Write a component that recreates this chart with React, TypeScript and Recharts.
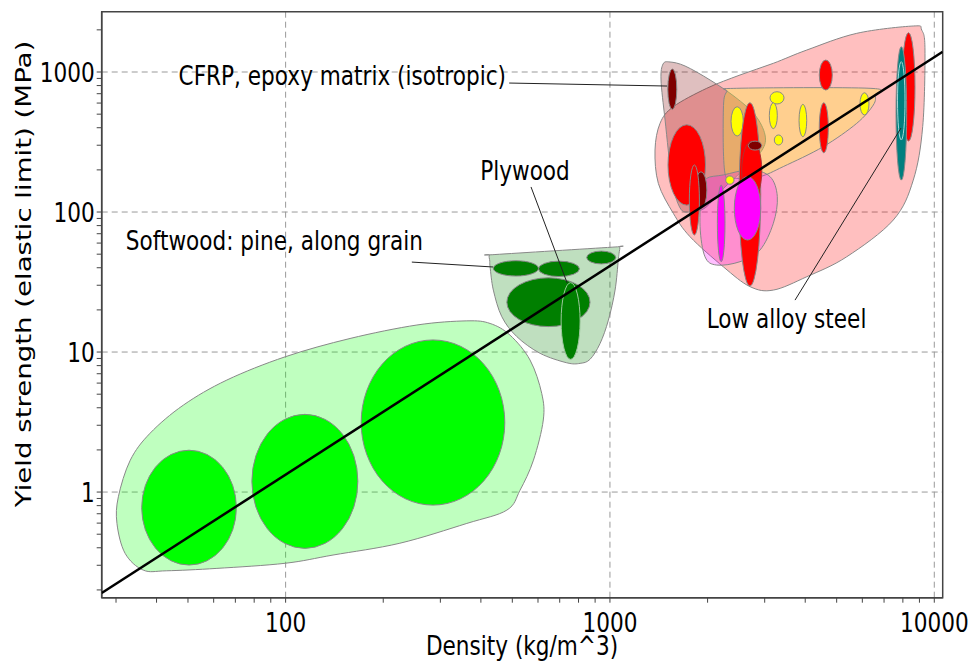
import React from 'react'
import { ScatterChart, Scatter, XAxis, YAxis, CartesianGrid, ReferenceArea } from 'recharts'

// Ashby chart: density vs yield strength, log-log

type Pt = { x: number; y: number }
type Cell = { family: string; x0: number; x1: number; y0: number; y1: number; edge?: string }

if (typeof document !== 'undefined') document.body.style.margin = '0'

const X_DOMAIN = [27.1, 10615]
const Y_DOMAIN = [0.176, 2696]

const X_TICKS = [
  30, 40, 50, 60, 70, 80, 90, 100, 200, 300, 400, 500, 600, 700, 800, 900, 1000,
  2000, 3000, 4000, 5000, 6000, 7000, 8000, 9000, 10000,
]
const Y_TICKS = [
  0.2, 0.3, 0.4, 0.5, 0.6, 0.7, 0.8, 0.9, 1, 2, 3, 4, 5, 6, 7, 8, 9, 10, 20, 30, 40, 50, 60,
  70, 80, 90, 100, 200, 300, 400, 500, 600, 700, 800, 900, 1000, 2000,
]
const X_LABELS = [100, 1000, 10000]
const Y_LABELS = [1, 10, 100, 1000]

// envelopes (vertices)
const foamHull: Pt[] = [
  { x: 36.4, y: 0.277 }, { x: 32.0, y: 0.365 }, { x: 30.2, y: 0.597 }, { x: 30.5, y: 0.925 },
  { x: 33.2, y: 1.69 }, { x: 38.2, y: 2.63 }, { x: 48.4, y: 4.18 }, { x: 65.9, y: 6.31 },
  { x: 99.7, y: 9.25 }, { x: 158, y: 12.5 }, { x: 254, y: 15.6 }, { x: 362, y: 16.7 },
  { x: 427, y: 16.0 }, { x: 492, y: 13.2 }, { x: 567, y: 8.77 }, { x: 616, y: 5.07 },
  { x: 623, y: 3.27 }, { x: 581, y: 1.69 }, { x: 528, y: 1.03 }, { x: 481, y: 0.743 },
  { x: 362, y: 0.597 }, { x: 225, y: 0.431 }, { x: 140, y: 0.355 }, { x: 99.7, y: 0.31 },
  { x: 61.4, y: 0.285 }, { x: 43.0, y: 0.274 },
]
const woodHull: Pt[] = [
  { x: 425, y: 49.3 }, { x: 442, y: 49.7 }, { x: 1015, y: 56.1 }, { x: 1069, y: 56.5 },
  { x: 1067, y: 50.9 }, { x: 1061, y: 45.4 }, { x: 1037, y: 27.7 },
  { x: 989, y: 16.9 }, { x: 932, y: 11.5 }, { x: 868, y: 8.87 }, { x: 809, y: 8.3 },
  { x: 736, y: 8.38 }, { x: 609, y: 9.79 }, { x: 516, y: 12.9 }, { x: 464, y: 17.9 },
  { x: 437, y: 27.7 }, { x: 427, y: 40.6 }, { x: 426, y: 44.7 },
]
const metalHull: Pt[] = [
  { x: 8614, y: 2131 }, { x: 9146, y: 1995 }, { x: 9360, y: 1435 }, { x: 9210, y: 407 },
  { x: 8614, y: 169 }, { x: 7475, y: 87.7 }, { x: 5370, y: 47.9 }, { x: 4044, y: 34.5 },
  { x: 3190, y: 27.7 }, { x: 2704, y: 29.3 }, { x: 2237, y: 40.6 }, { x: 1766, y: 66.6 },
  { x: 1568, y: 97.9 }, { x: 1410, y: 160 }, { x: 1377, y: 277 }, { x: 1427, y: 430 },
  { x: 1568, y: 565 }, { x: 1988, y: 765 }, { x: 2518, y: 952 }, { x: 3190, y: 1154 },
  { x: 4044, y: 1435 }, { x: 5766, y: 1889 },
]
const compositeHull: Pt[] = [
  { x: 1458, y: 1141 }, { x: 1532, y: 1179 }, { x: 1704, y: 1104 }, { x: 2035, y: 877 },
  { x: 2430, y: 663 }, { x: 2801, y: 493 }, { x: 3007, y: 355 }, { x: 2944, y: 277 },
  { x: 2610, y: 206 }, { x: 2216, y: 144 }, { x: 1964, y: 107 }, { x: 1766, y: 100 },
  { x: 1645, y: 107 }, { x: 1554, y: 169 }, { x: 1479, y: 454 }, { x: 1437, y: 877 },
]
const yellowHull: Pt[] = [
  { x: 2291, y: 723 }, { x: 2460, y: 765 }, { x: 6337, y: 765 }, { x: 6565, y: 685 },
  { x: 6486, y: 581 }, { x: 5766, y: 430 }, { x: 4548, y: 293 }, { x: 3422, y: 211 },
  { x: 2901, y: 179 }, { x: 2460, y: 174 }, { x: 2263, y: 189 }, { x: 2237, y: 535 },
]
const magentaHull: Pt[] = [
  { x: 1988, y: 174 }, { x: 2237, y: 184 }, { x: 2704, y: 200 }, { x: 3115, y: 179 },
  { x: 3281, y: 129 }, { x: 3190, y: 83.1 }, { x: 2901, y: 53.5 }, { x: 2518, y: 44.2 },
  { x: 2134, y: 41.8 }, { x: 1964, y: 47.9 }, { x: 1896, y: 78.5 }, { x: 1919, y: 144 },
]

const hulls = [
  { family: 'foam', pts: foamHull },
  { family: 'wood', pts: woodHull },
  { family: 'metal', pts: metalHull },
  { family: 'composite', pts: compositeHull },
  { family: 'yellow', pts: yellowHull },
  { family: 'magenta', pts: magentaHull },
]

// property bubbles: density range x0..x1, strength range y0..y1 (draw order)
const bubbles: Cell[] = [
  { family: 'foam', x0: 36.0, x1: 70.5, y0: 0.301, y1: 1.99 },
  { family: 'foam', x0: 78.7, x1: 167, y0: 0.396, y1: 3.59 },
  { family: 'foam', x0: 171, x1: 474, y0: 0.807, y1: 12.2 },
  { family: 'wood', x0: 437, x1: 602, y0: 34.9, y1: 44.9 },
  { family: 'wood', x0: 602, x1: 805, y0: 34.6, y1: 44.6 },
  { family: 'wood', x0: 848, x1: 1042, y0: 42.6, y1: 52.6 },
  { family: 'wood', x0: 481, x1: 868, y0: 15.2, y1: 33.9 },
  { family: 'wood', x0: 707, x1: 809, y0: 8.87, y1: 31.3, edge: 'light' },
  { family: 'composite', x0: 1508, x1: 1607, y0: 541, y1: 1051 },
  { family: 'metal', x0: 1510, x1: 1970, y0: 112, y1: 420 },
  { family: 'composite', x0: 1830, x1: 1990, y0: 106, y1: 194 },
  { family: 'metal', x0: 1757, x1: 1887, y0: 68.5, y1: 217 },
  { family: 'magenta', x0: 2144, x1: 2263, y0: 44.2, y1: 156 },
  { family: 'yellow', x0: 2362, x1: 2577, y0: 349, y1: 565 },
  { family: 'yellow', x0: 3115, x1: 3441, y0: 591, y1: 723 },
  { family: 'yellow', x0: 3100, x1: 3281, y0: 394, y1: 603 },
  { family: 'yellow', x0: 3212, x1: 3410, y0: 301, y1: 355 },
  { family: 'yellow', x0: 3828, x1: 4043, y0: 345, y1: 588 },
  { family: 'yellow', x0: 5900, x1: 6290, y0: 493, y1: 711 },
  { family: 'yellow', x0: 2275, x1: 2413, y0: 158, y1: 181 },
  { family: 'metal', x0: 2500, x1: 2917, y0: 29.6, y1: 603 },
  { family: 'metal', x0: 2548, x1: 2938, y0: 122, y1: 321, edge: 'dark' },
  { family: 'composite', x0: 2671, x1: 2938, y0: 277, y1: 321 },
  { family: 'magenta', x0: 2418, x1: 2917, y0: 63.1, y1: 179 },
  { family: 'metal', x0: 4420, x1: 4848, y0: 743, y1: 1218 },
  { family: 'metal', x0: 4420, x1: 4712, y0: 265, y1: 603 },
  { family: 'metal', x0: 7950, x1: 8720, y0: 321, y1: 1909 },
  { family: 'teal', x0: 7620, x1: 8220, y0: 169, y1: 1516 },
  { family: 'teal', x0: 7702, x1: 8123, y0: 327, y1: 1185, edge: 'light' },
]

const guide: Pt[] = [{ x: 27.1, y: 0.19 }, { x: 10615, y: 1396 }]

const labels = [
  { text: 'CFRP, epoxy matrix (isotropic)', x: 478, y: 952, anchor: 'end' },
  { text: 'Plywood', x: 547, y: 200, anchor: 'middle' },
  { text: 'Softwood: pine, along grain', x: 265, y: 63.1, anchor: 'end' },
  { text: 'Low alloy steel', x: 3503, y: 17.5, anchor: 'middle' },
]
const leaders: Pt[][] = [
  [{ x: 489, y: 834 }, { x: 1500, y: 794 }],
  [{ x: 571, y: 151 }, { x: 738, y: 31.1 }],
  [{ x: 245, y: 43.9 }, { x: 436, y: 40.5 }],
  [{ x: 3721, y: 23.5 }, { x: 7895, y: 398 }],
]

const COLORS: Record<string, string> = {
  foam: '#00ff00',
  wood: '#007f00',
  composite: '#7f0000',
  metal: '#ff0000',
  yellow: '#ffff00',
  magenta: '#ff00ff',
  teal: '#007f7f',
}
const EDGE = '#888888'
const FONT = 'DejaVu Sans, Verdana, sans-serif'
const SQUEEZE = 0.8

function closedPath(pts: Pt[]) {
  const n = pts.length
  let d = `M${pts[0].x},${pts[0].y}`
  for (let i = 0; i < n; i++) {
    const p0 = pts[(i - 1 + n) % n]
    const p1 = pts[i]
    const p2 = pts[(i + 1) % n]
    const p3 = pts[(i + 2) % n]
    const c1x = p1.x + (p2.x - p0.x) / 6
    const c1y = p1.y + (p2.y - p0.y) / 6
    const c2x = p2.x - (p3.x - p1.x) / 6
    const c2y = p2.y - (p3.y - p1.y) / 6
    d += ` C${c1x},${c1y} ${c2x},${c2y} ${p2.x},${p2.y}`
  }
  return d + 'Z'
}

function edgeColor(b: Cell) {
  if (b.edge === 'light') return b.family === 'teal' ? '#a8d8d8' : '#9cc89c'
  if (b.edge === 'dark') return '#b03030'
  return EDGE
}

const Empty = () => <g />

function SqueezedText({ x, y, anchor, size = 27, rotate = 0, children }: any) {
  return (
    <g transform={`translate(${x},${y}) scale(${SQUEEZE},1)${rotate ? ` rotate(${rotate})` : ''}`}>
      <text x={0} y={0} textAnchor={anchor} fontFamily={FONT} fontSize={size} fill="#000">
        {children}
      </text>
    </g>
  )
}

function XTick(props: any) {
  const { x, y, payload } = props
  if (!X_LABELS.includes(payload.value)) return <g />
  return <SqueezedText x={x} y={y + 27} anchor="middle">{payload.value}</SqueezedText>
}

function YTick(props: any) {
  const { x, y, payload } = props
  if (!Y_LABELS.includes(payload.value)) return <g />
  return <SqueezedText x={x} y={y + 10} anchor="end">{payload.value}</SqueezedText>
}

function LabelShape(props: any) {
  const { cx, cy, payload } = props
  return <SqueezedText x={cx} y={cy + 10} anchor={payload.anchor}>{payload.text}</SqueezedText>
}

export default function App() {
  return (
    <div style={{ background: '#fff', width: 971, height: 662 }}>
      <ScatterChart
        width={971}
        height={662}
        margin={{ top: 11.7, right: 28.3, bottom: 0, left: 6.7 }}
      >
        <CartesianGrid
          stroke="#999"
          strokeDasharray="6 4"
          verticalValues={X_LABELS}
          horizontalValues={Y_LABELS}
        />
        <XAxis
          type="number"
          dataKey="x"
          scale="log"
          domain={X_DOMAIN}
          ticks={X_TICKS}
          interval={0}
          allowDataOverflow
          tickSize={5}
          height={64.3}
          tick={<XTick />}
          axisLine={{ stroke: '#444', strokeWidth: 1.5 }}
          tickLine={{ stroke: '#444' }}
          label={{
            content: () => (
              <SqueezedText x={522} y={655} anchor="middle">Density (kg/m^3)</SqueezedText>
            ),
          }}
        />
        <YAxis
          type="number"
          dataKey="y"
          scale="log"
          domain={Y_DOMAIN}
          ticks={Y_TICKS}
          interval={0}
          allowDataOverflow
          tickSize={5}
          width={95}
          tick={<YTick />}
          axisLine={{ stroke: '#444', strokeWidth: 1.5 }}
          tickLine={{ stroke: '#444' }}
          label={{
            content: () => (
              <SqueezedText x={31} y={274} anchor="middle" size={27.6} rotate={-90}>
                Yield strength (elastic limit) (MPa)
              </SqueezedText>
            ),
          }}
        />

        {hulls.map((h, i) => (
          <Scatter
            key={`hull-${i}`}
            data={h.pts}
            isAnimationActive={false}
            shape={Empty}
            line={(p: any) => (
              <path
                d={closedPath(p.points)}
                fill={COLORS[h.family]}
                fillOpacity={0.25}
                stroke={EDGE}
                strokeWidth={1}
              />
            )}
            lineType="joint"
          />
        ))}

        {bubbles.map((b, i) => (
          <Scatter
            key={`cell-${i}`}
            data={[{ x: b.x0, y: b.y0 }, { x: b.x1, y: b.y1 }]}
            isAnimationActive={false}
            shape={Empty}
            line={(p: any) => {
              const [a, c] = p.points
              return (
                <ellipse
                  cx={(a.x + c.x) / 2}
                  cy={(a.y + c.y) / 2}
                  rx={Math.abs(c.x - a.x) / 2}
                  ry={Math.abs(c.y - a.y) / 2}
                  fill={COLORS[b.family]}
                  stroke={edgeColor(b)}
                  strokeWidth={1}
                />
              )
            }}
            lineType="joint"
          />
        ))}

        <Scatter
          data={guide}
          isAnimationActive={false}
          shape={Empty}
          line={{ stroke: '#000', strokeWidth: 2.5 }}
          lineType="joint"
        />

        {leaders.map((seg, i) => (
          <Scatter
            key={`lead-${i}`}
            data={seg}
            isAnimationActive={false}
            shape={Empty}
            line={{ stroke: '#222', strokeWidth: 1 }}
            lineType="joint"
          />
        ))}

        <Scatter data={labels} isAnimationActive={false} shape={LabelShape} />

        <ReferenceArea
          x1={X_DOMAIN[0]}
          x2={X_DOMAIN[1]}
          y1={Y_DOMAIN[0]}
          y2={Y_DOMAIN[1]}
          fill="none"
          stroke="#444"
          strokeWidth={1.5}
          ifOverflow="visible"
        />
      </ScatterChart>
    </div>
  )
}
